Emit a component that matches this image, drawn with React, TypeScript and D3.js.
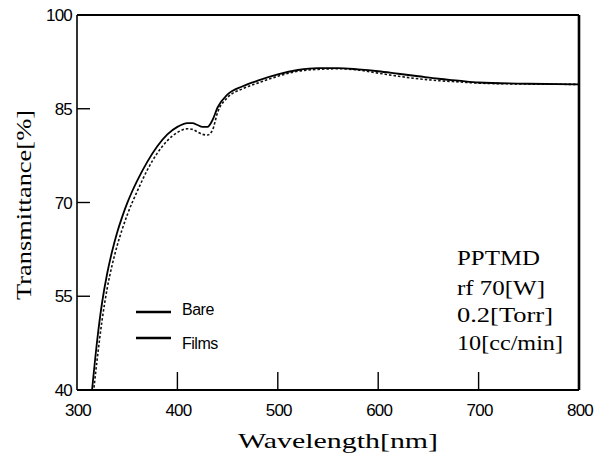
import { useEffect, useRef } from "react";
import * as d3 from "d3";

// wavelength grid (nm) and the two transmittance curves (%)
const wavelengths = [315, 320, 325, 330, 335, 340, 345, 350, 355, 360, 370, 380, 390, 400, 410, 415, 420, 425, 430, 435, 440, 450, 465, 480, 500, 520, 540, 560, 580, 600, 620, 640, 660, 680, 700, 750, 800];
const bare = [40, 47.8, 54, 58.6, 62.2, 65.2, 67.7, 69.9, 71.8, 73.5, 76.5, 79.0, 80.9, 82.1, 82.7, 82.7, 82.4, 82.1, 82.1, 83.2, 85.2, 87.3, 88.6, 89.5, 90.5, 91.2, 91.5, 91.5, 91.3, 91.0, 90.6, 90.2, 89.8, 89.5, 89.2, 89.0, 88.9];
const films = [37.5, 44.8, 51.2, 56.2, 60.0, 63.1, 65.7, 68.0, 70.0, 71.8, 75.2, 77.9, 79.9, 81.2, 81.8, 81.7, 81.3, 80.9, 80.8, 81.6, 84.4, 86.8, 88.2, 89.1, 90.2, 91.0, 91.3, 91.4, 91.2, 90.7, 90.2, 89.8, 89.5, 89.3, 89.1, 88.95, 88.9];

const xTicks = [300, 400, 500, 600, 700, 800];
const yTicks = [40, 55, 70, 85, 100];
const legendNames = ["Bare", "Films"];
const notes = ["PPTMD", "rf  70[W]", "0.2[Torr]", "10[cc/min]"];

const W = 615;
const H = 457;

const App = () => {
  const ref = useRef<SVGSVGElement | null>(null);

  useEffect(() => {
    if (!ref.current) return;
    const svg = d3.select(ref.current);
    svg.selectAll("*").remove();

    const left = 77, right = 579, top = 15, bottom = 390;
    const x = d3.scaleLinear().domain([300, 800]).range([left, right]);
    const y = d3.scaleLinear().domain([40, 100]).range([bottom, top]);

    svg.append("defs").append("clipPath").attr("id", "plot")
      .append("rect").attr("x", left).attr("y", top)
      .attr("width", right - left).attr("height", bottom - top);

    const line = d3.line<number>()
      .x((d, i) => x(wavelengths[i]))
      .y(d => y(d))
      .curve(d3.curveMonotoneX);

    const g = svg.append("g").attr("clip-path", "url(#plot)");
    g.append("path")
      .attr("d", line(films))
      .attr("fill", "none")
      .attr("stroke", "#111")
      .attr("stroke-width", 1.6)
      .attr("stroke-dasharray", "2.5,2");
    g.append("path")
      .attr("d", line(bare))
      .attr("fill", "none")
      .attr("stroke", "#000")
      .attr("stroke-width", 1.8);

    // frame
    svg.append("line").attr("x1", left).attr("x2", left).attr("y1", top).attr("y2", bottom)
      .attr("stroke", "#000").attr("stroke-width", 1.6);
    svg.append("line").attr("x1", left).attr("x2", right).attr("y1", bottom).attr("y2", bottom)
      .attr("stroke", "#000").attr("stroke-width", 1.8);
    svg.append("line").attr("x1", left).attr("x2", right).attr("y1", top).attr("y2", top)
      .attr("stroke", "#000").attr("stroke-width", 1.8);
    svg.append("line").attr("x1", right).attr("x2", right).attr("y1", top).attr("y2", bottom)
      .attr("stroke", "#000").attr("stroke-width", 2.6);

    // ticks, pointing inward
    svg.append("g").selectAll("line")
      .data(yTicks.filter(d => d !== 40 && d !== 100))
      .join("line")
      .attr("x1", left).attr("x2", left + 13)
      .attr("y1", d => y(d)).attr("y2", d => y(d))
      .attr("stroke", "#000").attr("stroke-width", 1.4);
    svg.append("g").selectAll("line")
      .data(xTicks.filter(d => d !== 300 && d !== 800))
      .join("line")
      .attr("x1", d => x(d)).attr("x2", d => x(d))
      .attr("y1", bottom).attr("y2", bottom - 18)
      .attr("stroke", "#000").attr("stroke-width", 1.4);

    const sans = "'Liberation Sans', Arial, sans-serif";
    const serif = "'Liberation Serif', 'Times New Roman', serif";

    svg.append("g").selectAll("text")
      .data(yTicks)
      .join("text")
      .attr("x", left - 5)
      .attr("y", d => y(d) + 6)
      .attr("text-anchor", "end")
      .attr("font-family", sans)
      .attr("font-size", 17)
      .attr("letter-spacing", -0.8)
      .text(d => d);

    svg.append("g").selectAll("text")
      .data(xTicks)
      .join("text")
      .attr("x", d => x(d) + 1)
      .attr("y", 416)
      .attr("text-anchor", "middle")
      .attr("font-family", sans)
      .attr("font-size", 17)
      .attr("letter-spacing", -0.8)
      .text(d => d);

    svg.append("text")
      .attr("x", 338).attr("y", 448)
      .attr("text-anchor", "middle")
      .attr("font-family", serif)
      .attr("font-size", 21)
      .attr("textLength", 200)
      .attr("lengthAdjust", "spacingAndGlyphs")
      .text("Wavelength[nm]");

    svg.append("text")
      .attr("transform", "translate(31,205) rotate(-90)")
      .attr("text-anchor", "middle")
      .attr("font-family", serif)
      .attr("font-size", 21)
      .attr("textLength", 190)
      .attr("lengthAdjust", "spacingAndGlyphs")
      .text("Transmittance[%]");

    // legend
    const legend = svg.append("g");
    legendNames.forEach((name, i) => {
      const ly = 312 + i * 26;
      legend.append("line")
        .attr("x1", 136).attr("x2", 171).attr("y1", ly).attr("y2", ly)
        .attr("stroke", "#000").attr("stroke-width", 2.4);
      legend.append("text")
        .attr("x", 182).attr("y", ly + 3 + i * 8)
        .attr("font-family", sans)
        .attr("font-size", 16)
        .attr("letter-spacing", -0.5)
        .text(name);
    });

    // run conditions
    const noteY = [265, 295, 322, 350];
    const noteW = [83, 88, 96, 106];
    svg.append("g").selectAll("text")
      .data(notes)
      .join("text")
      .attr("x", 457)
      .attr("y", (d, i) => noteY[i])
      .attr("font-family", serif)
      .attr("font-size", 20)
      .attr("textLength", (d, i) => noteW[i])
      .attr("lengthAdjust", "spacingAndGlyphs")
      .text(d => d);
  }, []);

  return (
    <svg
      ref={ref}
      width={W}
      height={H}
      style={{ position: "absolute", left: 0, top: 0, background: "#fff" }}
    />
  );
};

export default App;
